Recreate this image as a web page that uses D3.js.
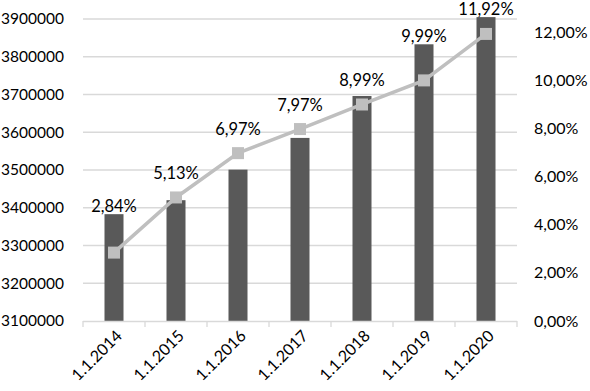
<!DOCTYPE html>
<html><head><meta charset="utf-8">
<script src="https://cdn.jsdelivr.net/npm/d3@7"></script>
<style>body{margin:0;background:#fff}svg{display:block}text{font-family:Lato,"Open Sans",sans-serif;fill:#000}</style>
</head><body><svg id="c" width="590" height="391"></svg>
<script>
const categories = ["1.1.2014","1.1.2015","1.1.2016","1.1.2017","1.1.2018","1.1.2019","1.1.2020"];
const population = [3383000,3420000,3501000,3585000,3696000,3833000,3905000];
const growth = [0.0284,0.0513,0.0697,0.0797,0.0899,0.0999,0.1192];
const growthLabels = ["2,84%","5,13%","6,97%","7,97%","8,99%","9,99%","11,92%"];
const leftTicks = [3100000,3200000,3300000,3400000,3500000,3600000,3700000,3800000,3900000];
const rightTicks = [0,0.02,0.04,0.06,0.08,0.10,0.12];
const rightTickLabels = ["0,00%","2,00%","4,00%","6,00%","8,00%","10,00%","12,00%"];

const svg = d3.select("#c");
const x = d3.scaleBand().domain(categories).range([83,517]).paddingInner(0).paddingOuter(0);
const y = d3.scaleLinear().domain([3100000,3900000]).range([321,19]);
const y2 = d3.scaleLinear().domain([0,0.12]).range([321,32]);

// gridlines
svg.append("g").selectAll("line").data(leftTicks.slice(1)).join("line")
  .attr("x1",83).attr("x2",517).attr("y1",d=>y(d)).attr("y2",d=>y(d))
  .attr("stroke","#d9d9d9").attr("stroke-width",1.3);

// left axis labels
svg.append("g").selectAll("text").data(leftTicks).join("text")
  .attr("x",64).attr("y",d=>y(d)).attr("dy","0.35em").attr("text-anchor","end")
  .attr("font-size",15.5).text(d=>d);

// right axis labels
svg.append("g").selectAll("text").data(rightTicks).join("text")
  .attr("x",534).attr("y",d=>y2(d)).attr("dy","0.35em").attr("text-anchor","start")
  .attr("font-size",16).text((d,i)=>rightTickLabels[i]);

// bars
const bw = 19;
svg.append("g").selectAll("rect").data(population).join("rect")
  .attr("x",(d,i)=>x(categories[i])+x.bandwidth()/2-bw/2).attr("width",bw)
  .attr("y",d=>y(d)).attr("height",d=>321-y(d)).attr("fill","#595959");

// x axis line and ticks
const xa = svg.append("g");
xa.append("line").attr("x1",83).attr("x2",517).attr("y1",321.5).attr("y2",321.5).attr("stroke","#d9d9d9").attr("stroke-width",1.3);
xa.selectAll("line.t").data(d3.range(categories.length+1)).join("line").attr("class","t")
  .attr("x1",i=>83+i*x.bandwidth()).attr("x2",i=>83+i*x.bandwidth())
  .attr("y1",321).attr("y2",327).attr("stroke","#d9d9d9").attr("stroke-width",1.3);
xa.selectAll("text").data(categories).join("text")
  .attr("transform",d=>`translate(${x(d)+x.bandwidth()/2+5},${333}) rotate(-45)`)
  .attr("text-anchor","end").attr("dy","0.35em").attr("font-size",16).text(d=>d);

// line
const cx = i => x(categories[i])+x.bandwidth()/2;
svg.append("path").datum(growth)
  .attr("d",d3.line().x((d,i)=>cx(i)).y(d=>y2(d)))
  .attr("fill","none").attr("stroke","#bfbfbf").attr("stroke-width",3.5);
svg.append("g").selectAll("rect").data(growth).join("rect")
  .attr("x",(d,i)=>cx(i)-6).attr("y",d=>y2(d)-6).attr("width",12).attr("height",12)
  .attr("fill","#bfbfbf");

// labels
svg.append("g").selectAll("text").data(growth).join("text")
  .attr("x",(d,i)=>cx(i)).attr("y",(d,i)=>Math.min(y2(d)-24, y(population[i])-8))
  .attr("dy","0.35em").attr("text-anchor","middle").attr("font-size",16.5)
  .text((d,i)=>growthLabels[i]);
</script></body></html>
